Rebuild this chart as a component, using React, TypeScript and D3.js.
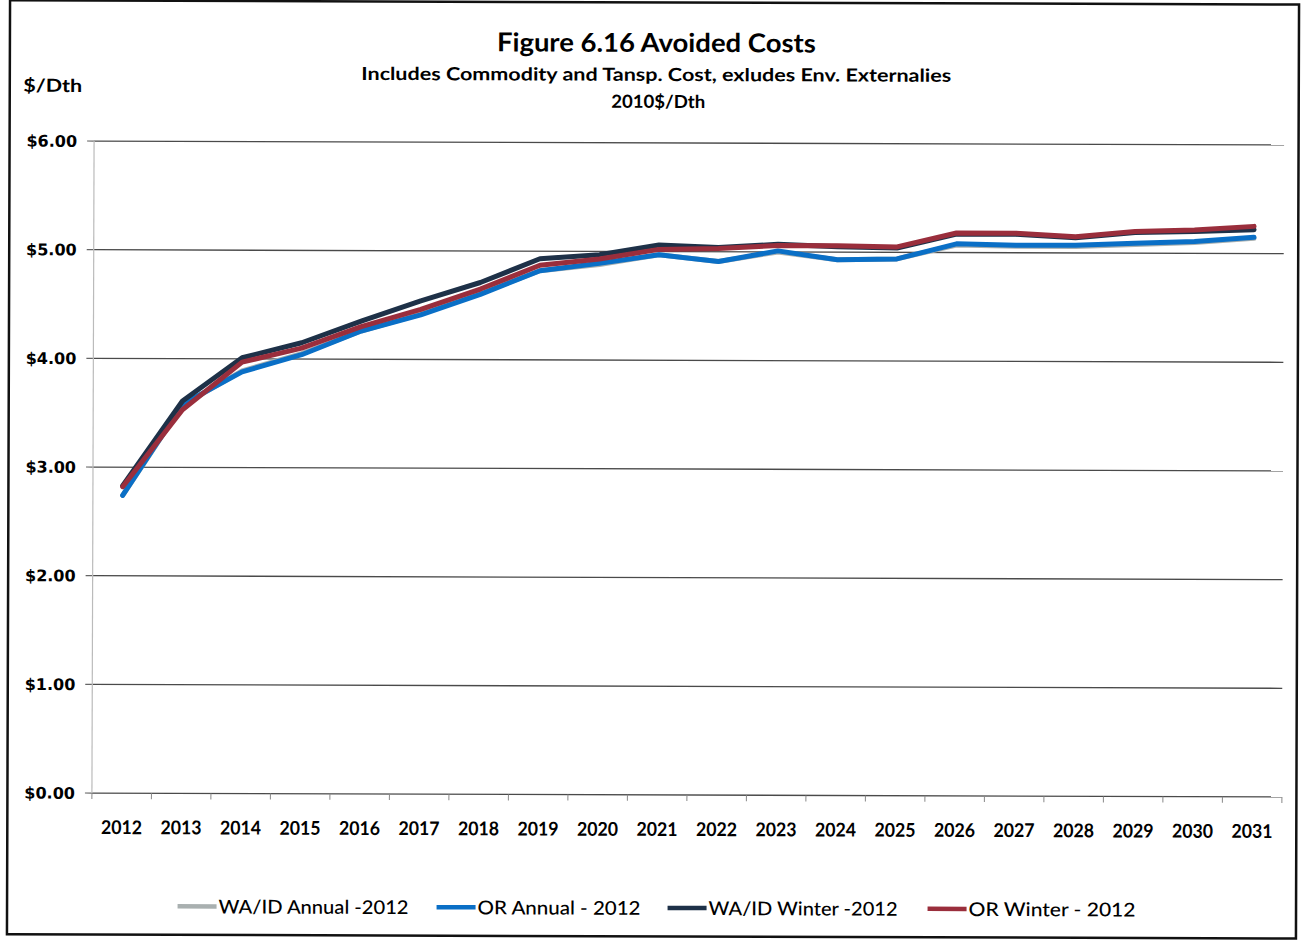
import React from "react";
import * as d3 from "d3";

const years = ["2012","2013","2014","2015","2016","2017","2018","2019","2020","2021","2022","2023","2024","2025","2026","2027","2028","2029","2030","2031"];
const waidAnnual = [2.74,3.57,3.89,4.05,4.26,4.42,4.61,4.82,4.88,4.97,4.91,5.0,4.93,4.94,5.07,5.06,5.06,5.08,5.1,5.14];
const orAnnual = [2.74,3.58,3.88,4.04,4.26,4.41,4.6,4.82,4.89,4.97,4.91,5.01,4.93,4.94,5.08,5.07,5.07,5.09,5.11,5.15];
const waidWinter = [2.83,3.61,4.01,4.15,4.35,4.54,4.71,4.93,4.97,5.06,5.04,5.07,5.05,5.04,5.17,5.17,5.14,5.19,5.2,5.22];
const orWinter = [2.82,3.53,3.97,4.1,4.3,4.46,4.65,4.87,4.93,5.02,5.03,5.06,5.06,5.05,5.18,5.18,5.15,5.2,5.215,5.25];
const yTicks = [0,1,2,3,4,5,6];
const seriesNames = ["WA/ID Annual  -2012","OR Annual - 2012","WA/ID Winter -2012","OR Winter - 2012"];
const seriesColors = ["#a9b0b0","#0a6fc6","#1e3148","#9a2e3c"];
const legendLineX = [179, 438, 669, 929];
const legendTextW = [190, 163, 189, 167];

export default function App() {
  const W = 1307, H = 942;
  const x = d3.scaleBand<string>().domain(years).range([93, 1283]).padding(0);
  const y = d3.scaleLinear().domain([0, 6]).range([795, 143]);
  const line = d3.line<number>()
    .x((_, i) => (x(years[i]) as number) + x.bandwidth() / 2)
    .y((d) => y(d));
  const series = [waidAnnual, orAnnual, waidWinter, orWinter];
  const calibri = "Lato, 'Open Sans', sans-serif";
  return (
    <svg width={W} height={H} style={{ position: "absolute", left: 0, top: 0, background: "#fff" }}>
      <rect x={0} y={0} width={W} height={H} fill="#fff" />
      <g transform="rotate(0.19 688 469)">
        <rect x={8.5} y={2.5} width={1289} height={934} fill="none" stroke="#111" strokeWidth={2.5} />
        <text x={655} y={52} textAnchor="middle" fontFamily={calibri} fontWeight={700} fontSize={26} textLength={319} lengthAdjust="spacingAndGlyphs" fill="#000">Figure 6.16 Avoided  Costs</text>
        <text x={655} y={81} textAnchor="middle" fontFamily={calibri} fontWeight={700} fontSize={18} textLength={590} lengthAdjust="spacingAndGlyphs" fill="#000">Includes Commodity and Tansp. Cost, exludes Env. Externalies</text>
        <text x={657} y={108} textAnchor="middle" fontFamily={calibri} fontWeight={700} fontSize={18} textLength={94} lengthAdjust="spacingAndGlyphs" fill="#000">2010$/Dth</text>
        <text x={22} y={94} fontFamily={calibri} fontWeight={700} fontSize={18} textLength={59} lengthAdjust="spacingAndGlyphs" fill="#000">$/Dth</text>
        {yTicks.map((t) => (
          <g key={t}>
            <line x1={93} x2={1283} y1={y(t)} y2={y(t)} stroke="#4a4a4a" strokeWidth={1.3} />
            <line x1={86} x2={93} y1={y(t)} y2={y(t)} stroke="#666" strokeWidth={1.2} />
            <text x={76} y={y(t)} dy="0.36em" textAnchor="end" fontFamily="'DejaVu Sans', Verdana, sans-serif" fontWeight={700} fontSize={16} fill="#000">{d3.format("$.2f")(t)}</text>
          </g>
        ))}
        <line x1={93} x2={93} y1={y(6)} y2={y(0)} stroke="#bbb" strokeWidth={1.2} />
        {years.map((yr) => (
          <g key={yr}>
            <line x1={x(yr) as number} x2={x(yr) as number} y1={y(0)} y2={y(0) + 6} stroke="#888" strokeWidth={1} />
            <text x={(x(yr) as number) + x.bandwidth() / 2} y={836} textAnchor="middle" fontFamily={calibri} fontWeight={700} fontSize={19} textLength={41} lengthAdjust="spacingAndGlyphs" fill="#000">{yr}</text>
          </g>
        ))}
        <line x1={1283} x2={1283} y1={y(0)} y2={y(0) + 6} stroke="#888" strokeWidth={1} />
        {series.map((s, k) => (
          <path key={k} d={line(s) as string} fill="none" stroke={seriesColors[k]} strokeWidth={5} strokeLinejoin="round" strokeLinecap="round" />
        ))}
        {seriesNames.map((n, k) => (
          <g key={n}>
            <line x1={legendLineX[k]} x2={legendLineX[k] + 39} y1={908} y2={908} stroke={seriesColors[k]} strokeWidth={4.5} />
            <text x={legendLineX[k] + 41} y={915} fontFamily={calibri} fontWeight={500} fontSize={19} textLength={legendTextW[k]} lengthAdjust="spacingAndGlyphs" fill="#000">{n}</text>
          </g>
        ))}
      </g>
    </svg>
  );
}
